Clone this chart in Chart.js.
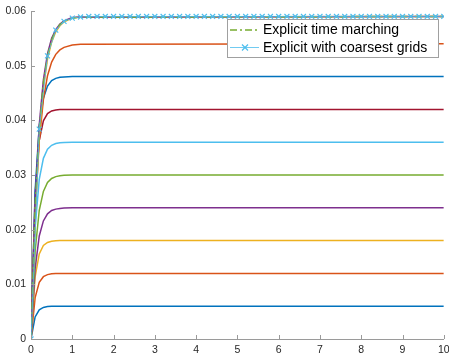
<!DOCTYPE html>
<html>
<head>
<meta charset="utf-8">
<script src="https://cdn.jsdelivr.net/npm/chart.js@4/dist/chart.umd.min.js"></script>
<style>
html,body{margin:0;padding:0;background:#fff;}
#wrap{position:relative;width:449px;height:356px;}
</style>
</head>
<body>
<div id="wrap"><canvas id="c" width="449" height="356"></canvas></div>
<script>
// time grid of the solid curves
const T = [0, 0.1, 0.2, 0.3, 0.4, 0.5, 0.6, 0.7, 0.8, 1.0, 1.2, 10];
// solid curves
const s006 = [0, 0.00403, 0.00535, 0.00578, 0.00593, 0.00598, 0.006, 0.006, 0.006, 0.006, 0.006, 0.006];
const s012 = [0, 0.00758, 0.01038, 0.0114, 0.01178, 0.01192, 0.01197, 0.012, 0.012, 0.012, 0.012, 0.012];
const s018 = [0, 0.01138, 0.01557, 0.0171, 0.01767, 0.01788, 0.01796, 0.018, 0.018, 0.018, 0.018, 0.018];
const s024 = [0, 0.01289, 0.01884, 0.0216, 0.0229, 0.0235, 0.02376, 0.02389, 0.02395, 0.024, 0.024, 0.024];
const s030 = [0, 0.0161, 0.02355, 0.027, 0.02862, 0.02937, 0.0297, 0.02986, 0.02994, 0.030, 0.030, 0.030];
const s036 = [0, 0.02034, 0.0292, 0.03305, 0.0347, 0.03544, 0.03576, 0.03589, 0.03595, 0.036, 0.036, 0.036];
const s042 = [0, 0.02654, 0.03633, 0.0399, 0.04124, 0.04172, 0.0419, 0.04196, 0.042, 0.042, 0.042, 0.042];
const s048 = [0, 0.02712, 0.03893, 0.04406, 0.04627, 0.04726, 0.04768, 0.04786, 0.04794, 0.048, 0.048, 0.048];
const s054 = [0, 0.023, 0.03623, 0.04379, 0.04817, 0.05065, 0.05207, 0.05289, 0.05335, 0.05379, 0.05393, 0.054];
const s059a = [0, 0.0225, 0.0370, 0.0460, 0.0512, 0.0543, 0.0562, 0.0573, 0.0580, 0.0587, 0.0589, 0.059];
const s059b = [0, 0.0250, 0.0392, 0.0474, 0.0522, 0.0550, 0.0566, 0.0576, 0.0582, 0.0588, 0.0589, 0.059];
// "Explicit time marching"
const explicitMarching = [0, 0.02413, 0.03841, 0.04685, 0.0518, 0.05475, 0.05649, 0.05753, 0.05812, 0.0587, 0.05889, 0.059];
// "Explicit with coarsest grids" (markers every 0.2)
const TC = [0,0.2,0.4,0.6,0.8,1.0,1.2,1.4,1.6,1.8,2.0,2.2,2.4,2.6,2.8,3.0,3.2,3.4,3.6,3.8,4.0,4.2,4.4,4.6,4.8,5.0,5.2,5.4,5.6,5.8,6.0,6.2,6.4,6.6,6.8,7.0,7.2,7.4,7.6,7.8,8.0,8.2,8.4,8.6,8.8,9.0,9.2,9.4,9.6,9.8,10];
const coarsest = [0,0.0384,0.0518,0.0565,0.0581,0.0587,0.0589,0.059,0.059,0.059,0.059,0.059,0.059,0.059,0.059,0.059,0.059,0.059,0.059,0.059,0.059,0.059,0.059,0.059,0.059,0.059,0.059,0.059,0.059,0.059,0.059,0.059,0.059,0.059,0.059,0.059,0.059,0.059,0.059,0.059,0.059,0.059,0.059,0.059,0.059,0.059,0.059,0.059,0.059,0.059,0.059];
const xTicks = [0,1,2,3,4,5,6,7,8,9,10];
const yTicks = [0,0.01,0.02,0.03,0.04,0.05,0.06];
const legendLabels = ['Explicit time marching', 'Explicit with coarsest grids'];

const C = {blue:'#0072BD', orange:'#D95319', yellow:'#EDB120', purple:'#7E2F8E', green:'#77AC30', lblue:'#4DBEEE', red:'#A2142F'};
const pts = (xs, ys) => ys.map((v, i) => ({x: xs[i], y: v}));

const solid = [
  [s006, C.blue], [s012, C.orange], [s018, C.yellow], [s024, C.purple], [s030, C.green],
  [s036, C.lblue], [s042, C.red], [s048, C.blue], [s054, C.orange], [s059a, C.yellow], [s059b, C.purple]
];
const datasets = solid.map((s, i) => ({
  data: pts(T, s[0]), borderColor: s[1], borderWidth: 1.5, pointRadius: 0, fill: false, tension: 0, order: 100 - i
}));
datasets.push({
  label: legendLabels[0], data: pts(T, explicitMarching), borderColor: C.green, borderWidth: 1.5,
  borderDash: [7, 3, 2, 3], pointRadius: 0, fill: false, order: 2
});
datasets.push({
  label: legendLabels[1], data: pts(TC, coarsest), borderColor: C.lblue, borderWidth: 0.8,
  pointStyle: 'crossRot', pointRadius: 3.5, pointBorderWidth: 1.2, pointBorderColor: C.lblue, fill: false, order: 1
});

const AX = '#9a9a9a';
const tickPlugin = {
  id: 'inTicks',
  afterDatasetsDraw(chart) {
    const ctx = chart.ctx, xs = chart.scales.x, ys = chart.scales.y, a = chart.chartArea;
    ctx.save();
    ctx.strokeStyle = AX; ctx.lineWidth = 1;
    ctx.beginPath();
    xTicks.forEach(v => { const px = Math.round(xs.getPixelForValue(v)) + 0.5; ctx.moveTo(px, a.bottom); ctx.lineTo(px, a.bottom - 4); });
    yTicks.forEach(v => { const py = Math.round(ys.getPixelForValue(v)) + 0.5; ctx.moveTo(a.left, py); ctx.lineTo(a.left + 4, py); });
    ctx.stroke();
    ctx.restore();
  }
};
const legendPlugin = {
  id: 'boxLegend',
  afterDraw(chart) {
    const ctx = chart.ctx;
    const x0 = 227.5, y0 = 19.5, w = 211, h = 38;
    ctx.save();
    ctx.fillStyle = '#fff'; ctx.fillRect(x0, y0, w, h);
    ctx.strokeStyle = '#a0a0a0'; ctx.lineWidth = 1; ctx.strokeRect(x0, y0, w, h);
    ctx.font = '14px "Liberation Sans", Arial, sans-serif';
    ctx.fillStyle = '#000'; ctx.textBaseline = 'middle'; ctx.textAlign = 'left';
    const r1 = 30, r2 = 47.5;
    ctx.strokeStyle = C.green; ctx.lineWidth = 1.5; ctx.setLineDash([7, 3, 2, 3]);
    ctx.beginPath(); ctx.moveTo(230, r1); ctx.lineTo(259, r1); ctx.stroke();
    ctx.setLineDash([]);
    ctx.strokeStyle = C.lblue; ctx.lineWidth = 0.8;
    ctx.beginPath(); ctx.moveTo(230, r2); ctx.lineTo(259, r2); ctx.stroke();
    ctx.lineWidth = 1.2;
    ctx.beginPath(); ctx.moveTo(242, r2 - 3); ctx.lineTo(248, r2 + 3); ctx.moveTo(242, r2 + 3); ctx.lineTo(248, r2 - 3); ctx.stroke();
    ctx.fillText(legendLabels[0], 263, r1 + 0.5);
    ctx.fillText(legendLabels[1], 263, r2 + 0.5);
    ctx.restore();
  }
};

new Chart(document.getElementById('c'), {
  type: 'line',
  data: {datasets},
  options: {
    responsive: false, animation: false, devicePixelRatio: 1,
    layout: {padding: {top: 11, right: 3.5, left: 0, bottom: 0}},
    plugins: {legend: {display: false}, tooltip: {enabled: false}},
    scales: {
      x: {
        type: 'linear', min: 0, max: 10,
        afterFit(s) { s.height = 17; s.paddingLeft = 0; s.paddingRight = 0; },
        afterBuildTicks(s) { s.ticks = xTicks.map(v => ({value: v})); },
        grid: {display: false, drawTicks: false},
        border: {display: true, color: AX, width: 1},
        ticks: {color: '#262626', padding: 5, maxRotation: 0, font: {family: '"Liberation Sans", Arial, sans-serif', size: 10.5}}
      },
      y: {
        type: 'linear', min: 0, max: 0.06,
        afterFit(s) { s.width = 31; s.paddingTop = 0; s.paddingBottom = 0; },
        afterBuildTicks(s) { s.ticks = yTicks.map(v => ({value: v})); },
        grid: {display: false, drawTicks: false},
        border: {display: true, color: AX, width: 1},
        ticks: {color: '#262626', padding: 5, font: {family: '"Liberation Sans", Arial, sans-serif', size: 10.5},
          callback: v => String(parseFloat(Number(v).toFixed(2)))}
      }
    }
  },
  plugins: [tickPlugin, legendPlugin]
});
</script>
</body>
</html>
